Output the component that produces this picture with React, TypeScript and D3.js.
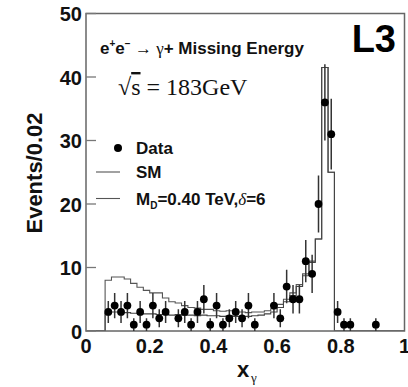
import React from 'react';
import * as d3 from 'd3';

// Histogram bins: width 0.02 starting at x = 0
const binWidth = 0.02;
// SM expectation per bin (bins 0.00-0.02 ... 0.98-1.00)
const smValues = [
  0, 0, 0, 2.8, 3.0, 3.0, 2.9, 2.8, 2.8, 2.7,
  2.7, 2.6, 2.6, 2.5, 2.6, 2.5, 2.5, 2.4, 2.5, 2.4,
  2.4, 2.3, 2.4, 2.3, 2.3, 2.3, 2.4, 2.5, 2.7, 3.0,
  3.7, 4.6, 5.6, 7.0, 8.7, 10.8, 14.5, 41.5, 25.0, 0,
  0, 0, 0, 0, 0, 0, 0, 0, 0, 0,
];
// SM + graviton, M_D = 0.40 TeV, delta = 6
const addValues = [
  0, 0, 0, 8.0, 8.5, 8.5, 8.2, 7.5, 6.9, 6.4,
  6.0, 6.0, 5.2, 4.6, 4.4, 4.0, 3.7, 3.6, 3.4, 3.4,
  3.2, 3.1, 3.2, 3.0, 3.0, 2.9, 3.0, 3.0, 3.2, 3.5,
  4.2, 5.0, 6.0, 7.3, 9.0, 11.0, 14.5, 41.5, 25.0, 0,
  0, 0, 0, 0, 0, 0, 0, 0, 0, 0,
];
// Data: bin centres and counts
const dataX = [
  0.07, 0.09, 0.11, 0.13, 0.15, 0.17, 0.19, 0.21, 0.23, 0.25,
  0.29, 0.31, 0.33, 0.35, 0.37, 0.39, 0.41, 0.43, 0.45, 0.47,
  0.49, 0.51, 0.53, 0.59, 0.61, 0.63, 0.65, 0.67, 0.69, 0.71,
  0.73, 0.75, 0.77, 0.79, 0.81, 0.83, 0.91,
];
const dataN = [
  3, 4, 3, 4, 1, 3, 1, 4, 2, 3,
  2, 3, 1, 3, 5, 1, 4, 1, 2, 3,
  2, 4, 1, 4, 2, 7, 5, 5, 11, 9,
  20, 36, 31, 3, 1, 1, 1,
];
const yTicks = [0, 10, 20, 30, 40, 50];
const xTicks = [0, 0.2, 0.4, 0.6, 0.8, 1];
const xTickLabels = ['0', '0.2', '0.4', '0.6', '0.8', '1'];

const SANS = "'Liberation Sans', Arial, Helvetica, sans-serif";
const SERIF = "'Liberation Serif', 'Times New Roman', serif";

export default function App() {
  const x = d3.scaleLinear().domain([0, 1]).range([86, 404.5]);
  const y = d3.scaleLinear().domain([0, 50]).range([331, 13.5]);

  const histPath = (vals: number[]) => {
    const pts: [number, number][] = vals.map((v, i) => [i * binWidth, v]);
    pts.push([vals.length * binWidth, vals[vals.length - 1]]);
    return d3
      .line<[number, number]>()
      .x((d) => x(d[0]))
      .y((d) => y(d[1]))
      .curve(d3.curveStepAfter)(pts) as string;
  };

  const [x0, x1] = x.range();
  const [yb, yt] = y.range();

  return (
    <svg
      width={408}
      height={387}
      viewBox="0 0 408 387"
      style={{ position: 'absolute', left: 0, top: 0, background: '#fff' }}
    >
      <defs>
        <clipPath id="plotClip">
          <rect x={x0} y={yt} width={x1 - x0} height={yb - yt} />
        </clipPath>
      </defs>

      {/* histograms */}
      <g clipPath="url(#plotClip)" fill="none">
        <path d={histPath(addValues)} stroke="#555" strokeWidth={1.1} />
        <path d={histPath(smValues)} stroke="#444" strokeWidth={1.1} />
      </g>

      {/* frame */}
      <rect x={x0} y={yt} width={x1 - x0} height={yb - yt} fill="none" stroke="#666" strokeWidth={1.5} />

      {/* y ticks */}
      {yTicks.map((t) => (
        <g key={t}>
          <line x1={x0} x2={x0 + 10} y1={y(t)} y2={y(t)} stroke="#777" strokeWidth={1.3} />
          <text
            x={82}
            y={y(t) + 7.5}
            textAnchor="end"
            fontFamily={SANS}
            fontWeight={700}
            fontSize={20}
            fill="#111"
          >
            {t}
          </text>
        </g>
      ))}

      {/* x tick labels */}
      {xTicks.map((t, i) => (
        <text
          key={t}
          x={x(t)}
          y={352.5}
          textAnchor="middle"
          fontFamily={SANS}
          fontWeight={700}
          fontSize={20}
          fill="#111"
        >
          {xTickLabels[i]}
        </text>
      ))}

      {/* data error bars + points */}
      <g clipPath="url(#plotClip)">
        {dataX.map((dx, i) => {
          const n = dataN[i];
          const e = Math.sqrt(n);
          return (
            <line
              key={'e' + i}
              x1={x(dx)}
              x2={x(dx)}
              y1={y(Math.max(0, n - e))}
              y2={y(n + e)}
              stroke="#333"
              strokeWidth={1.5}
            />
          );
        })}
        {dataX.map((dx, i) => (
          <circle key={'p' + i} cx={x(dx)} cy={y(dataN[i])} r={3.9} fill="#000" />
        ))}
      </g>

      {/* Y axis title */}
      <text
        transform="translate(42,173) rotate(-90)"
        textAnchor="middle"
        fontFamily={SANS}
        fontWeight={700}
        fontSize={22}
        fill="#111"
      >
        Events/0.02
      </text>

      {/* X axis title */}
      <text x={237} y={377} fontFamily={SANS} fontWeight={700} fontSize={22} fill="#111">
        x
      </text>
      <text x={251} y={382} fontFamily={SERIF} fontSize={13} fill="#111">
        γ
      </text>

      {/* Process title */}
      <text x={100} y={53.5} fontFamily={SANS} fontWeight={700} fontSize={17} fill="#111">
        <tspan>e</tspan>
        <tspan fontSize={10} dy={-7}>+</tspan>
        <tspan dy={7}>e</tspan>
        <tspan fontSize={10} dy={-7}>−</tspan>
        <tspan dy={7} fontFamily={SERIF} fontWeight={400}> → γ</tspan>
        <tspan>+ Missing Energy</tspan>
      </text>

      {/* sqrt(s) */}
      <text x={118} y={95} fontFamily={SERIF} fontSize={24} fill="#111">
        √<tspan style={{ textDecoration: 'overline' }}>s</tspan> = 183GeV
      </text>

      {/* L3 */}
      <text x={396} y={52} textAnchor="end" fontFamily={SANS} fontWeight={700} fontSize={38} fill="#000">
        L3
      </text>

      {/* Legend */}
      <circle cx={118} cy={148} r={4} fill="#000" />
      <text x={136} y={154} fontFamily={SANS} fontWeight={700} fontSize={17} fill="#111">
        Data
      </text>
      <line x1={96} x2={120} y1={172} y2={172} stroke="#555" strokeWidth={1.1} />
      <text x={136} y={177.5} fontFamily={SANS} fontWeight={700} fontSize={17} fill="#111">
        SM
      </text>
      <line x1={96} x2={120} y1={198.5} y2={198.5} stroke="#555" strokeWidth={1.1} />
      <text x={136} y={204.5} fontFamily={SANS} fontWeight={700} fontSize={17} fill="#111">
        <tspan>M</tspan>
        <tspan fontSize={10} dy={4}>D</tspan>
        <tspan dy={-4}>=0.40 TeV,</tspan>
        <tspan fontFamily={SERIF} fontStyle="italic" fontWeight={400}>δ</tspan>
        <tspan>=6</tspan>
      </text>
    </svg>
  );
}
